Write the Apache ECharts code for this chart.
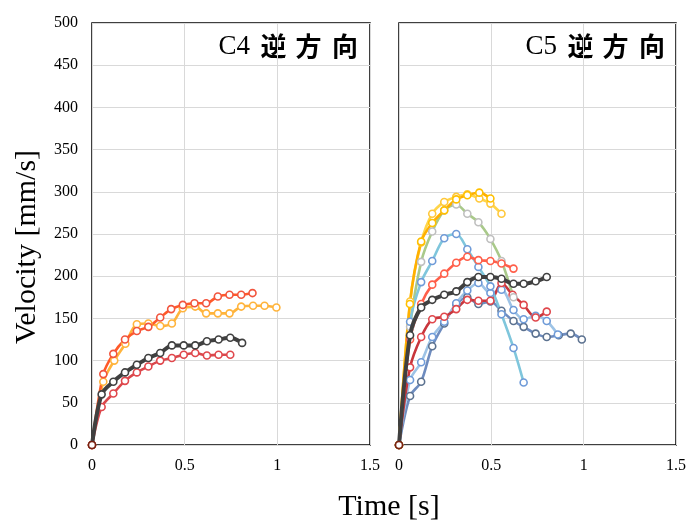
<!DOCTYPE html>
<html><head><meta charset="utf-8">
<script src="https://cdn.jsdelivr.net/npm/echarts@6/dist/echarts.min.js"></script>
<style>html,body{margin:0;padding:0;background:#fff}#c{width:689px;height:521px}</style>
</head><body><div id="c"></div>
<script>
// ---- data: [time s, velocity mm/s] ----
const leftOrange = [[0,0],[0.061,84],[0.115,108],[0.178,125],[0.242,135],[0.304,140],[0.368,151],[0.427,161],[0.49,166],[0.553,168],[0.616,168],[0.679,176],[0.742,178],[0.805,178],[0.866,180]];
const leftYellow = [[0,0],[0.061,75],[0.12,100],[0.18,120],[0.242,143],[0.304,144],[0.368,141],[0.431,144],[0.49,162],[0.557,164],[0.616,156],[0.679,156],[0.742,156],[0.805,164],[0.869,165],[0.931,165],[0.995,163]];
const leftGray = [[0,0],[0.052,60],[0.115,75],[0.178,86],[0.242,95],[0.304,103],[0.368,109],[0.431,118],[0.495,118],[0.557,118],[0.62,123],[0.683,125],[0.746,127],[0.81,121]];
const leftRed = [[0,0],[0.052,45],[0.115,61],[0.178,76],[0.242,86],[0.304,93],[0.368,100],[0.431,103],[0.495,107],[0.557,109],[0.62,106],[0.683,107],[0.746,107]];

const rightOrange = [[0,0],[0.059,167],[0.12,241],[0.18,263],[0.245,278],[0.31,291],[0.37,296],[0.435,299],[0.495,292]];
const rightYellow = [[0,0],[0.06,170],[0.12,240],[0.18,274],[0.245,288],[0.31,294],[0.37,297],[0.435,292],[0.495,286],[0.555,274]];
const rightSage = [[0,0],[0.06,140],[0.12,217],[0.18,253],[0.245,278],[0.31,285],[0.37,274],[0.43,264],[0.495,244],[0.555,218],[0.62,175]];
const rightCyan = [[0,0],[0.06,146],[0.12,193],[0.18,218],[0.245,245],[0.31,250],[0.37,232],[0.43,211],[0.495,188],[0.555,155],[0.62,115],[0.675,74]];
const rightTomato = [[0,0],[0.06,125],[0.12,167],[0.18,190],[0.245,203],[0.31,216],[0.37,223],[0.43,219],[0.495,218],[0.555,215],[0.62,209]];
const rightDark = [[0,0],[0.06,130],[0.12,163],[0.18,172],[0.245,178],[0.31,182],[0.37,193],[0.43,199],[0.495,199],[0.555,197],[0.62,191],[0.675,191],[0.74,194],[0.8,199]];
const rightCrimson = [[0,0],[0.06,92],[0.12,128],[0.18,149],[0.245,152],[0.31,161],[0.37,172],[0.43,171],[0.495,171],[0.555,192],[0.615,178],[0.675,166],[0.74,151],[0.8,158]];
const rightBlue = [[0,0],[0.06,77],[0.12,98],[0.18,128],[0.245,146],[0.31,168],[0.37,183],[0.43,192],[0.495,180],[0.555,184],[0.62,160],[0.675,149],[0.74,153],[0.8,147],[0.86,131]];
const rightSteel = [[0,0],[0.06,58],[0.12,75],[0.18,117],[0.245,144],[0.31,167],[0.37,175],[0.43,167],[0.495,170],[0.555,159],[0.62,147],[0.675,140],[0.74,132],[0.8,128],[0.865,130],[0.93,132],[0.99,125]];
const origin = [[0,0]];

const xTicks = [0, 0.5, 1, 1.5];
const yTicks = [0, 50, 100, 150, 200, 250, 300, 350, 400, 450, 500];
const panelCodes = ['C4', 'C5'];
const panelDir = ['逆', '方', '向'];

const serif = '"Liberation Serif","Times New Roman",serif';
function mk(data, ax, line, mark, w, z) {
  return {type:'line', data, xAxisIndex:ax, yAxisIndex:ax, smooth:0.3,
    symbol:'circle', symbolSize:7, z:z||2,
    lineStyle:{color:line, width:w||2.6},
    itemStyle:{color:'#fff', borderColor:mark, borderWidth:1.6},
    emphasis:{disabled:true}};
}
function xAx(i){return {type:'value', gridIndex:i, min:xTicks[0], max:xTicks[xTicks.length-1], interval:0.5,
  axisLine:{show:false}, axisTick:{show:false},
  splitLine:{lineStyle:{color:'#d9d9d9', width:1}},
  axisLabel:{fontFamily:serif, fontSize:16, color:'#000', margin:13}};}
function yAx(i){return {type:'value', gridIndex:i, min:yTicks[0], max:yTicks[yTicks.length-1], interval:50,
  axisLine:{show:false}, axisTick:{show:false},
  splitLine:{lineStyle:{color:'#d9d9d9', width:1}},
  axisLabel:{show:i===0, fontFamily:serif, fontSize:16, color:'#000', margin:14}};}

const graphics = [];
[0, 307].forEach((dx, p) => {
  graphics.push({type:'text', x:250+dx, y:47, style:{text:panelCodes[p], font:'27px "Liberation Serif",serif', fill:'#000', textAlign:'right', textVerticalAlign:'middle'}});
  [273.5, 308.5, 345].forEach((cx, k) => {
    graphics.push({type:'text', x:cx+dx, y:46, style:{text:panelDir[k], font:'bold 26px "Noto Sans CJK JP",sans-serif', fill:'#000', textAlign:'center', textVerticalAlign:'middle'}});
  });
});
graphics.push({type:'text', x:27, y:247, rotation:Math.PI/2, style:{text:'Velocity [mm/s]', font:'30px "Liberation Serif",serif', fill:'#000', textAlign:'center', textVerticalAlign:'middle'}});
graphics.push({type:'text', x:389, y:507, style:{text:'Time [s]', font:'30px "Liberation Serif",serif', fill:'#000', textAlign:'center', textVerticalAlign:'middle'}});

const chart = echarts.init(document.getElementById('c'));
chart.setOption({
  animation:false,
  backgroundColor:'#fff',
  grid:[
    {left:92, top:23, width:278, height:422, show:true, borderColor:'#000', borderWidth:1.5, backgroundColor:'transparent'},
    {left:399, top:23, width:279, height:422, show:true, borderColor:'#000', borderWidth:1.5, backgroundColor:'transparent'}
  ],
  xAxis:[xAx(0), xAx(1)],
  yAxis:[yAx(0), yAx(1)],
  graphic:graphics,
  series:[
    mk(leftYellow,0,'#FFB43C','#FFB43C'),
    mk(leftOrange,0,'#FF5A2A','#F2543D'),
    mk(leftRed,0,'#D9484C','#E0474C'),
    mk(leftGray,0,'#404040','#404040',4,3),
    mk(rightSteel,1,'#6E8CBF','#5C7290'),
    mk(rightBlue,1,'#9DC3E6','#6F9BD8'),
    mk(rightCrimson,1,'#C8363C','#E0474C'),
    mk(rightSage,1,'#A9C98A','#BFBFBF'),
    mk(rightCyan,1,'#7FC6DC','#6F9BD8'),
    mk(rightTomato,1,'#FF5F4A','#FF5F4A'),
    mk(rightYellow,1,'#FFD54A','#FFC83A'),
    mk(rightOrange,1,'#FFB000','#FFC000'),
    mk(rightDark,1,'#404040','#404040',4,3),
    mk(origin,0,'#7A2010','#7A2010',1,5),
    mk(origin,1,'#7A2010','#7A2010',1,5)
  ]
});
</script></body></html>
